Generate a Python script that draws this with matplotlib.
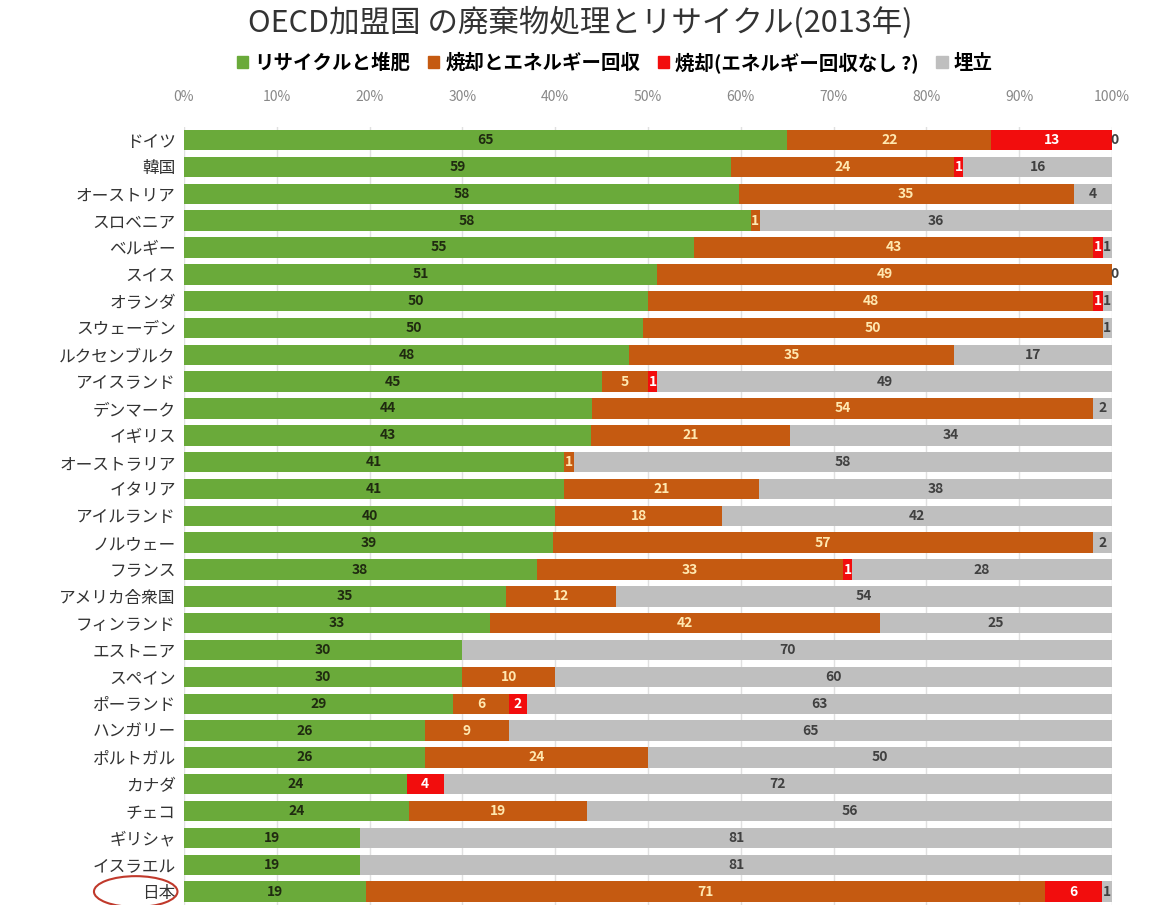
import numpy as np
import matplotlib
matplotlib.use("Agg")
import matplotlib.pyplot as plt
from matplotlib.patches import Ellipse, Patch
from matplotlib.transforms import blended_transform_factory

plt.rcParams['font.family'] = ['Noto Sans CJK JP', 'DejaVu Sans']

countries = ["ドイツ", "韓国", "オーストリア", "スロベニア", "ベルギー", "スイス", "オランダ",
             "スウェーデン", "ルクセンブルク", "アイスランド", "デンマーク", "イギリス",
             "オーストラリア", "イタリア", "アイルランド", "ノルウェー", "フランス",
             "アメリカ合衆国", "フィンランド", "エストニア", "スペイン", "ポーランド",
             "ハンガリー", "ポルトガル", "カナダ", "チェコ", "ギリシャ", "イスラエル", "日本"]
recycle = [65, 59, 58, 58, 55, 51, 50, 50, 48, 45, 44, 43, 41, 41, 40, 39, 38, 35, 33,
           30, 30, 29, 26, 26, 24, 24, 19, 19, 19]
incin_energy = [22, 24, 35, 1, 43, 49, 48, 50, 35, 5, 54, 21, 1, 21, 18, 57, 33, 12, 42,
                0, 10, 6, 9, 24, 0, 19, 0, 0, 71]
incin_none = [13, 1, 0, 0, 1, 0, 1, 0, 0, 1, 0, 0, 0, 0, 0, 0, 1, 0, 0,
              0, 0, 2, 0, 0, 4, 0, 0, 0, 6]
landfill = [0, 16, 4, 36, 1, 0, 1, 1, 17, 49, 2, 34, 58, 38, 42, 2, 28, 54, 25,
            70, 60, 63, 65, 50, 72, 56, 81, 81, 1]

series_names = ["リサイクルと堆肥", "焼却とエネルギー回収", "焼却(エネルギー回収なし ?)", "埋立"]
colors = ["#6aaa3a", "#c55a11", "#f20d0d", "#bfbfbf"]
label_colors = ["#1f2a10", "#ffe8b0", "white", "#404040"]

data = np.array([recycle, incin_energy, incin_none, landfill], dtype=float)
pct = data / data.sum(axis=0) * 100

fig = plt.figure(figsize=(11.6, 9.05), dpi=100)
ax = fig.add_axes([0.1586, 0.0, 0.8, 0.860])

y = np.arange(len(countries))
left = np.zeros(len(countries))
for k in range(4):
    ax.barh(y, pct[k], left=left, height=0.76, color=colors[k], zorder=2)
    for i in range(len(countries)):
        v = data[k, i]
        if v == 0 and k != 3:
            continue
        xc = left[i] + pct[k, i] / 2
        if v == 0:
            xc = 100.3
        ax.text(xc, y[i], f"{int(v)}", ha="center", va="center", fontsize=10,
                fontweight="bold", color=label_colors[k], zorder=3)
    left += pct[k]

ax.set_xlim(0, 100)
ax.set_ylim(len(countries) - 0.5, -0.5)
ax.set_yticks(y)
ax.set_yticklabels(countries, fontsize=12, color="#333333")
ax.set_xticks(np.arange(0, 101, 10))
ax.set_xticklabels([f"{t}%" for t in range(0, 101, 10)], fontsize=10, color="#888888")
ax.xaxis.tick_top()
ax.tick_params(axis="x", length=0, pad=16)
ax.tick_params(axis="y", length=0, pad=6)
ax.grid(axis="x", color="#e0e0e0", lw=1, zorder=0)
for s in ax.spines.values():
    s.set_visible(False)

# circle around Japan
tr = blended_transform_factory(ax.transAxes, ax.transData)
ax.add_patch(Ellipse((-0.052, 28), 0.09, 1.15, transform=tr, fill=False,
                     edgecolor="#c0392b", lw=1.5, clip_on=False))

fig.text(0.5, 0.975, "OECD加盟国 の廃棄物処理とリサイクル(2013年)", ha="center", va="center",
         fontsize=22, color="#333333")
handles = [Patch(color=c) for c in colors]
fig.legend(handles, series_names, loc="center", bbox_to_anchor=(0.53, 0.931), ncol=4,
           frameon=False, handlelength=0.6, handleheight=0.6,
           handletextpad=0.3, columnspacing=0.9, prop={"weight": "bold", "size": 14})

fig.savefig("out.png", dpi=100)
